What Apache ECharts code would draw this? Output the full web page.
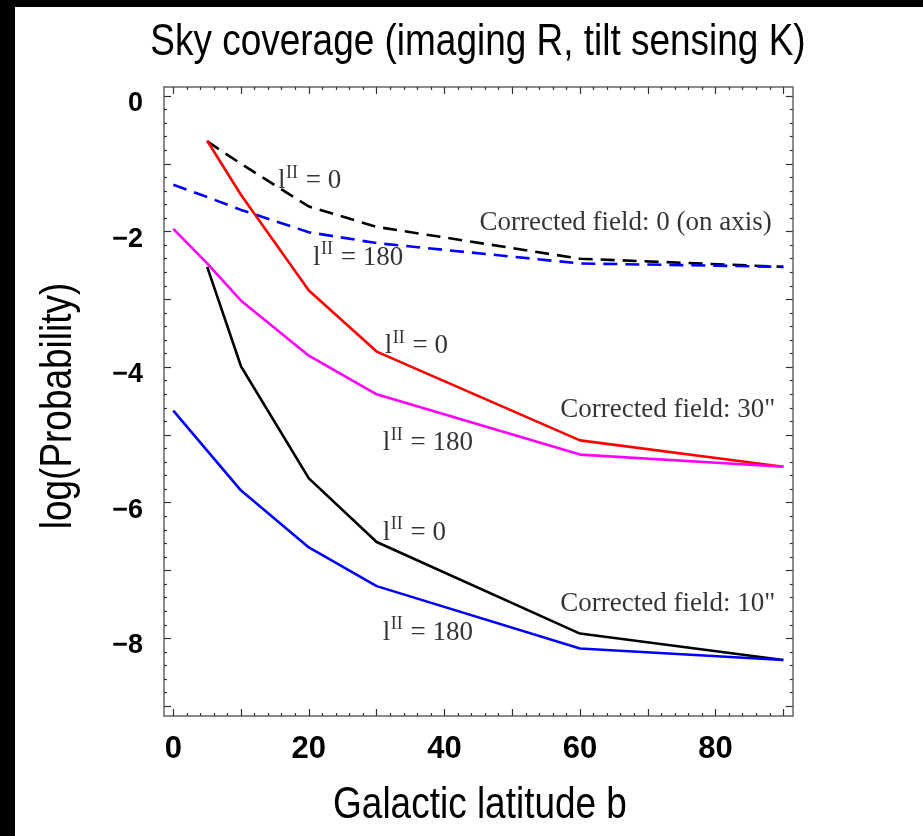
<!DOCTYPE html>
<html><head><meta charset="utf-8">
<script src="https://cdn.jsdelivr.net/npm/echarts@6/dist/echarts.min.js"></script>
<style>
html,body{margin:0;padding:0;background:#000;width:923px;height:836px;overflow:hidden}
#c{position:absolute;left:15px;top:7px;width:908px;height:829px;background:#fff}
</style></head><body><div id="c"></div>
<script>
// ---- data ----
const latitudes  = [0, 5, 10, 20, 30, 60, 90];
const cf0_l0     = [null, -0.67, -1.00, -1.63, -1.93, -2.40, -2.52];
const cf0_l180   = [-1.31, -1.49, -1.68, -2.01, -2.17, -2.47, -2.52];
const cf30_l0    = [null, -0.66, -1.46, -2.87, -3.77, -5.08, -5.47];
const cf30_l180  = [-1.96, -2.47, -3.02, -3.83, -4.40, -5.29, -5.47];
const cf10_l0    = [null, -2.52, -3.99, -5.64, -6.58, -7.93, -8.32];
const cf10_l180  = [-4.64, -5.23, -5.82, -6.66, -7.23, -8.15, -8.32];
const xTickLabels = [0, 20, 40, 60, 80];
const yTickLabels = [0, -2, -4, -6, -8];
const titleText = 'Sky coverage (imaging R, tilt sensing K)';
const xTitle = 'Galactic latitude b';
const yTitle = 'log(Probability)';
// annotations (text baseline anchor, in data units)
const annX    = [15.45, 20.6, 88.3, 31.2, 88.8, 30.9, 30.9, 88.8, 30.9];
const annY    = [-1.387, -2.518, -2.006, -3.821, -4.765, -5.251, -6.575, -7.62, -8.05];
const annText = ['l   = 0', 'l   = 180', 'Corrected field: 0 (on axis)',
                 'l   = 0', 'Corrected field: 30"', 'l   = 180',
                 'l   = 0', 'Corrected field: 10"', 'l   = 180'];
const annSup  = ['II', 'II', '', 'II', '', 'II', 'II', '', 'II'];
const annAlign = ['left','left','right','left','right','left','left','right','left'];

// ---- layout ----
const X_MIN = -1.37, X_MAX = 91.38, Y_MIN = -9.146, Y_MAX = 0.133;
const xMajor = [], xMinor = [], yMajor = [], yMinor = [];
for (let v = 0; v <= 90; v += 2) (v % 10 === 0 ? xMajor : xMinor).push(v);
for (let i = -45; i <= 0; i++) (i % 5 === 0 ? yMajor : yMinor).push(i / 5);

const SANS = '"Liberation Sans", Arial, sans-serif';
const SERIF = '"Liberation Serif", "Times New Roman", serif';
const bigSize = 44, narrowScale = 0.84, tickSize = 31;
const frameColor = '#666', tickColor = '#333';
function pairs(vals) { const out = []; vals.forEach((v, i) => { if (v !== null) out.push([latitudes[i], v]); }); return out; }

function xAx(pos, ticks, len, labels) {
  return {
    type: 'value', min: X_MIN, max: X_MAX, position: pos, gridIndex: 0,
    axisLine: { show: !!labels || (pos === 'top' && len > 4), onZero: false, lineStyle: { color: frameColor, width: 1.5 } },
    axisTick: { show: true, inside: true, length: len, customValues: ticks, lineStyle: { color: tickColor, width: 1.2 } },
    axisLabel: labels ? { show: true, customValues: labels, margin: 18, color: '#000', fontFamily: SANS, fontWeight: 'bold', fontSize: tickSize } : { show: false },
    splitLine: { show: false }
  };
}
function yAx(pos, ticks, len, labels) {
  return {
    type: 'value', min: Y_MIN, max: Y_MAX, position: pos, gridIndex: 0,
    axisLine: { show: !!labels || (pos === 'right' && len > 4), onZero: false, lineStyle: { color: frameColor, width: 1.5 } },
    axisTick: { show: true, inside: true, length: len, customValues: ticks, lineStyle: { color: tickColor, width: 1.2 } },
    axisLabel: labels ? { show: true, customValues: labels, margin: 21, color: '#000', fontFamily: SANS, fontWeight: 'bold', fontSize: 27,
      verticalAlign: 'top', lineHeight: 15, formatter: v => v === 0 ? '0' : '\u2212' + Math.abs(v) } : { show: false },
    splitLine: { show: false }
  };
}

function lineSeries(vals, color, dashed) {
  return {
    type: 'line', xAxisIndex: 0, yAxisIndex: 0, data: pairs(vals), showSymbol: false, symbol: 'none',
    silent: true, animation: false, clip: false,
    lineStyle: { color: color, width: 2.6, type: dashed ? [14, 8] : 'solid', cap: 'butt' }
  };
}

const annMain = annX.map((x, i) => ({ value: [x, annY[i]], label: { formatter: annText[i], align: annAlign[i] } }));
const annSupData = annX.map((x, i) => ({ value: [x, annY[i]], label: { formatter: annSup[i] } })).filter((d, i) => annSup[i]);

const option = {
  animation: false,
  grid: { left: 149, right: 130.3, top: 80, bottom: 120, containLabel: false },
  xAxis: [ xAx('bottom', xMajor, 7, xTickLabels), xAx('bottom', xMinor, 3, null), xAx('top', xMajor, 7, null), xAx('top', xMinor, 3, null) ],
  yAxis: [ yAx('left', yMajor, 7, yTickLabels), yAx('left', yMinor, 3, null), yAx('right', yMajor, 7, null), yAx('right', yMinor, 3, null) ],
  series: [
    lineSeries(cf0_l0, '#000000', true),
    lineSeries(cf0_l180, '#0000ff', true),
    lineSeries(cf30_l0, '#ff0000', false),
    lineSeries(cf30_l180, '#ff00ff', false),
    lineSeries(cf10_l0, '#000000', false),
    lineSeries(cf10_l180, '#0000ff', false),
    {
      type: 'scatter', xAxisIndex: 0, yAxisIndex: 0, symbolSize: 0, silent: true, animation: false, clip: false,
      data: annMain,
      label: { show: true, position: [0, 0], offset: [0, -9], verticalAlign: 'middle',
        fontFamily: SERIF, fontSize: 27, lineHeight: 30, color: '#000' }
    },
    {
      type: 'scatter', xAxisIndex: 0, yAxisIndex: 0, symbolSize: 0, silent: true, animation: false, clip: false,
      data: annSupData,
      label: { show: true, position: [0, 0], offset: [8, -17], align: 'left', verticalAlign: 'middle',
        fontFamily: SERIF, fontSize: 18, lineHeight: 20, color: '#000' }
    }
  ],
  graphic: [
    { type: 'text', x: 463, y: 36, scaleX: narrowScale, silent: true,
      style: { text: titleText, font: bigSize + 'px ' + SANS, fill: '#000', textAlign: 'center', textVerticalAlign: 'middle', align: 'center', verticalAlign: 'middle' } },
    { type: 'text', x: 465, y: 799, scaleX: narrowScale, silent: true,
      style: { text: xTitle, font: bigSize + 'px ' + SANS, fill: '#000', textAlign: 'center', textVerticalAlign: 'middle', align: 'center', verticalAlign: 'middle' } },
    { type: 'text', x: 44, y: 399, rotation: Math.PI / 2, scaleX: narrowScale, silent: true,
      style: { text: yTitle, font: bigSize + 'px ' + SANS, fill: '#000', textAlign: 'center', textVerticalAlign: 'middle', align: 'center', verticalAlign: 'middle' } }
  ]
};
const chart = echarts.init(document.getElementById('c'), null, { renderer: 'canvas' });
chart.setOption(option);
</script></body></html>
